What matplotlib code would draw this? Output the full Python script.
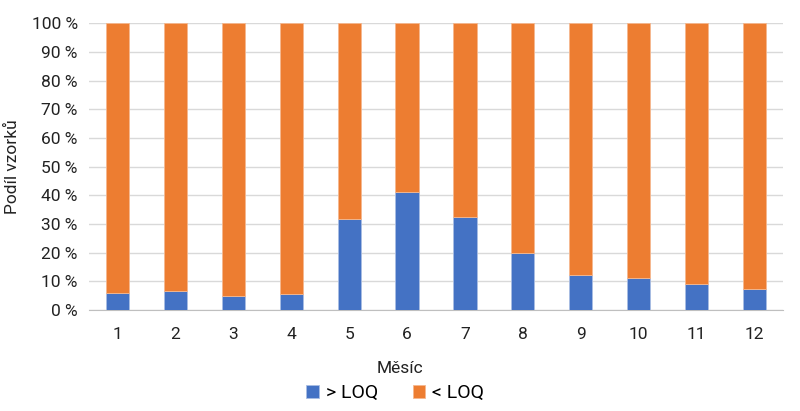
import numpy as np
import matplotlib.pyplot as plt
from matplotlib.ticker import FuncFormatter

plt.rcParams['font.family'] = ['Roboto', 'DejaVu Sans']

mesice = ['1', '2', '3', '4', '5', '6', '7', '8', '9', '10', '11', '12']
nad_loq = [6.0, 6.7, 4.8, 5.5, 31.9, 41.3, 32.3, 19.7, 12.1, 11.3, 8.9, 7.2]
pod_loq = [100 - v for v in nad_loq]

fig = plt.figure(figsize=(8, 4.11), dpi=100)
ax = fig.add_axes([0.111, 0.246, 0.868, 0.697])

x = np.arange(len(mesice))
ax.bar(x, nad_loq, 0.4, color='#4472C4', edgecolor='#a9bde3', linewidth=0.6, label='> LOQ', zorder=3)
ax.bar(x, pod_loq, 0.4, bottom=nad_loq, color='#ED7D31', edgecolor='#f5b88f', linewidth=0.6, label='< LOQ', zorder=3)

ax.set_xlim(-0.5, len(mesice) - 0.5)
ax.set_ylim(0, 100)
ax.set_yticks(range(0, 101, 10))
ax.yaxis.set_major_formatter(FuncFormatter(lambda v, p: f'{int(v)} %'))
ax.set_xticks(x)
ax.set_xticklabels(mesice)
ax.grid(axis='y', color='#d9d9d9', linewidth=1, zorder=0)
for s in ['top', 'right', 'left']:
    ax.spines[s].set_visible(False)
ax.spines['bottom'].set_color('#bfbfbf')
ax.tick_params(axis='both', length=0, labelsize=12.5, colors='#222222')
ax.tick_params(axis='x', pad=12)
ax.tick_params(axis='y', pad=8)

ax.set_ylabel('Podíl vzorků', fontsize=12.5, color='#222222', labelpad=8)
fig.text(0.5, 1 - 368 / 411, 'Měsíc', ha='center', va='center', fontsize=12.5, color='#222222')

fig.legend(loc='center', bbox_to_anchor=(0.494, 1 - 393 / 411), ncol=2, frameon=False,
           fontsize=14, handlelength=0.65, handleheight=0.65, handletextpad=0.35, columnspacing=1.8)

fig.savefig('out.png', dpi=100)
